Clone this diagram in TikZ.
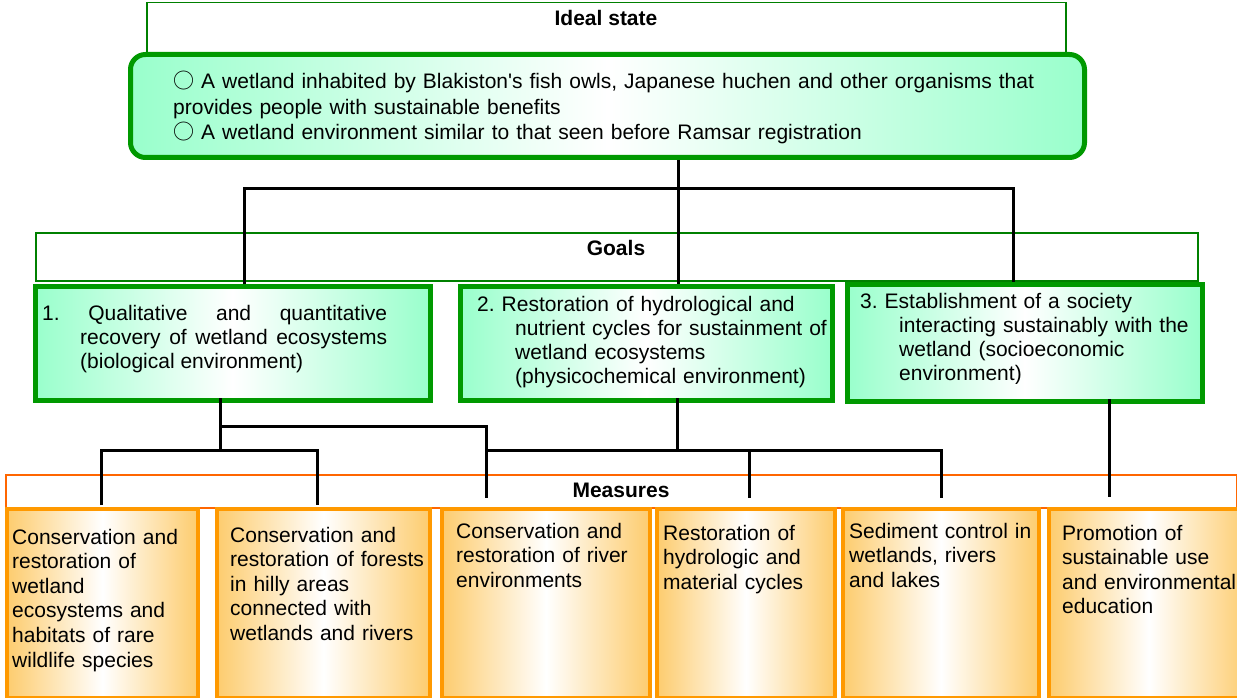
\documentclass[tikz,border=0pt]{standalone}
\usepackage{fontspec}
\setmainfont{Liberation Sans}[Ligatures=TeXOff]
\newfontfamily\cjkfont{Noto Sans CJK JP}
\definecolor{gborder}{RGB}{0,153,0}
\definecolor{hgreen}{RGB}{0,128,0}
\definecolor{gfill}{RGB}{153,255,204}
\definecolor{oborder}{RGB}{255,153,0}
\definecolor{hred}{RGB}{255,102,0}
\definecolor{ofill}{RGB}{253,204,110}
\begin{document}
\frenchspacing
\begin{tikzpicture}[x=1pt,y=-1pt,
  hdrG/.style={draw=hgreen,line width=1.5pt,fill=white,inner sep=0pt,anchor=north west},
  hdrO/.style={draw=hred,line width=1.5pt,fill=white,inner sep=0pt,anchor=north west},
  hdrtext/.style={anchor=base,inner sep=0pt,font=\fontsize{21}{24.5}\selectfont\bfseries},
  idealbox/.style={draw=gborder,line width=5pt,rounded corners=15pt,left color=gfill,right color=gfill,middle color=white,inner sep=0pt,anchor=north west},
  goalbox/.style={draw=gborder,line width=4.5pt,left color=gfill,right color=gfill,middle color=white,inner sep=0pt,anchor=north west},
  mbox/.style={draw=oborder,line width=4pt,left color=ofill,right color=ofill,middle color=white,inner sep=0pt,anchor=north west},
  txt/.style={anchor=base west,inner sep=0pt,align=left,font=\fontsize{21}{24.2}\selectfont\frenchspacing},
  mtxt/.style={anchor=base west,inner sep=0pt,align=left,font=\fontsize{21}{24.6}\selectfont},
  conn/.style={draw=black,line width=3pt}]
\useasboundingbox (0,0) rectangle (1237,698);

% Ideal state
\node[hdrG,minimum width=919,minimum height=50] (idealhdr) at (146,2) {};
\node[hdrtext] (idealhdrt) at (606,26) {Ideal state};
\node[idealbox,minimum width=954,minimum height=103] (ideal) at (128,52) {};
\node[txt,text width=920,font=\fontsize{21}{25.5}\selectfont] (idealt) at (173,89)
  {{\cjkfont ○} A wetland inhabited by Blakiston's fish owls, Japanese huchen and other organisms that\\provides people with sustainable benefits\\{\cjkfont ○} A wetland environment similar to that seen before Ramsar registration};

% Goals header
\node[hdrG,minimum width=1162,minimum height=48] (goalshdr) at (35,232) {};
\node[hdrtext] (goalshdrt) at (616,255) {Goals};

% coordinates for connectors
\coordinate (bus1) at (0,188);
\coordinate (g1top) at (244,284);
\coordinate (g2top) at (678,284);
\coordinate (g3top) at (1013,282);
\draw[conn] (ideal.south -| g2top) -- (g2top);
\draw[conn] (g1top) |- (g3top |- bus1) -- (g3top);

% Goal boxes
\node[goalbox,minimum width=395,minimum height=114] (g1) at (33,284) {};
\node[goalbox,minimum width=372,minimum height=114] (g2) at (458,284) {};
\node[goalbox,minimum width=355,minimum height=117] (g3) at (845,282) {};

\node[txt,text width=345,align=justify] (g1t) at (42,320)
  {\hangindent=38pt\hangafter=1 1. Qualitative and quantitative\linebreak recovery of wetland ecosystems\linebreak (biological environment)\par};
\node[txt,text width=365] (g2t) at (477,311)
  {\hangindent=38pt\hangafter=1 2. Restoration of hydrological and\newline nutrient cycles for sustainment of\newline wetland ecosystems\newline (physicochemical environment)\par};
\begin{scope}
\clip (845,282) rectangle (1200,383);
\node[txt,text width=340] (g3t) at (860,308)
  {\hangindent=39pt\hangafter=1 3. Establishment of a society\newline interacting sustainably with the\newline wetland (socioeconomic\newline environment)\par};
\end{scope}

% Measures header
\node[hdrO,minimum width=1231,minimum height=33] (meashdr) at (5,474) {};
\node[hdrtext] (meashdrt) at (621,497) {Measures};

% lower connectors
\coordinate (bus2) at (0,450);
\coordinate (bus3) at (0,426);
\coordinate (g1bot) at (220,398);
\coordinate (g2bot) at (677,398);
\coordinate (g3bot) at (1109,399);
\coordinate (m1top) at (101,505);
\coordinate (m2top) at (317,505);
\coordinate (m3top) at (486,498);
\coordinate (m4top) at (749,498);
\coordinate (m5top) at (941,498);
\coordinate (m6top) at (1109,497);
\draw[conn] (g1bot) -- (g1bot |- bus2);
\draw[conn] (m1top) |- (m2top |- bus2) -- (m2top);
\draw[conn] (g1bot |- bus3) -| (m3top);
\draw[conn] (g2bot) -- (g2bot |- bus2);
\draw[conn] (m3top |- bus2) -- (m5top |- bus2) -- (m5top);
\draw[conn] (m4top |- bus2) -- (m4top);
\draw[conn] (g3bot) -- (m6top);

% Measure boxes
\node[mbox,minimum width=191,minimum height=189] (m1) at (5,507) {};
\node[mbox,minimum width=213,minimum height=189] (m2) at (215,507) {};
\node[mbox,minimum width=208,minimum height=189] (m3) at (440,507) {};
\node[mbox,minimum width=178,minimum height=189] (m4) at (655,507) {};
\node[mbox,minimum width=196,minimum height=189] (m5) at (841,507) {};
\node[mbox,minimum width=200,minimum height=189] (m6) at (1047,507) {};

\node[mtxt,text width=185] (m1t) at (12,544) {Conservation and\\restoration of\\wetland\\ecosystems and\\habitats of rare\\wildlife species};
\node[mtxt,text width=205] (m2t) at (230,542) {Conservation and\\restoration of forests\\in hilly areas\\connected with\\wetlands and rivers};
\node[mtxt,text width=190] (m3t) at (456,538) {Conservation and\\restoration of river\\environments};
\node[mtxt,text width=170] (m4t) at (663,540) {Restoration of\\hydrologic and\\material cycles};
\node[mtxt,text width=190] (m5t) at (849,538) {Sediment control in\\wetlands, rivers\\and lakes};
\node[mtxt,text width=185] (m6t) at (1062,540) {Promotion of\\sustainable use\\and environmental\\education};
\end{tikzpicture}
\end{document}
